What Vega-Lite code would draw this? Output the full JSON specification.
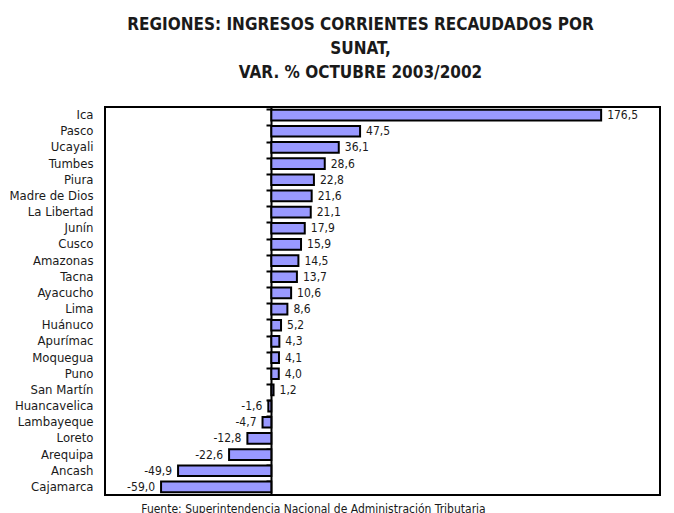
{
  "$schema": "https://vega.github.io/schema/vega-lite/v6.json",
  "autosize": "none",
  "width": 555,
  "height": 388,
  "padding": {"left": 105, "top": 107, "right": 14, "bottom": 18},
  "background": "white",
  "title": {
    "text": ["REGIONES: INGRESOS CORRIENTES RECAUDADOS POR", "SUNAT,", "VAR. % OCTUBRE 2003/2002"],
    "font": "DejaVu Sans Condensed, sans-serif",
    "fontSize": 17,
    "fontWeight": "bold",
    "color": "#1a1a1a",
    "lineHeight": 24,
    "anchor": "middle",
    "dx": -22,
    "offset": 25
  },
  "data": {
    "values": [
      {"region": "Ica", "var": 176.5},
      {"region": "Pasco", "var": 47.5},
      {"region": "Ucayali", "var": 36.1},
      {"region": "Tumbes", "var": 28.6},
      {"region": "Piura", "var": 22.8},
      {"region": "Madre de Dios", "var": 21.6},
      {"region": "La Libertad", "var": 21.1},
      {"region": "Junín", "var": 17.9},
      {"region": "Cusco", "var": 15.9},
      {"region": "Amazonas", "var": 14.5},
      {"region": "Tacna", "var": 13.7},
      {"region": "Ayacucho", "var": 10.6},
      {"region": "Lima", "var": 8.6},
      {"region": "Huánuco", "var": 5.2},
      {"region": "Apurímac", "var": 4.3},
      {"region": "Moquegua", "var": 4.1},
      {"region": "Puno", "var": 4.0},
      {"region": "San Martín", "var": 1.2},
      {"region": "Huancavelica", "var": -1.6},
      {"region": "Lambayeque", "var": -4.7},
      {"region": "Loreto", "var": -12.8},
      {"region": "Arequipa", "var": -22.6},
      {"region": "Ancash", "var": -49.9},
      {"region": "Cajamarca", "var": -59.0}
    ]
  },
  "layer": [
    {
      "mark": {"type": "bar", "fill": "#9999ff", "stroke": "black", "strokeWidth": 2},
      "encoding": {
        "y": {
          "field": "region", "type": "nominal", "sort": null,
          "scale": {"paddingInner": 0.34, "paddingOuter": 0.17},
          "axis": {
            "title": null, "domain": false, "ticks": false,
            "labelPadding": 12, "labelFontSize": 13,
            "labelFont": "DejaVu Sans Condensed, sans-serif",
            "labelColor": "#1a1a1a"
          }
        },
        "x": {
          "field": "var", "type": "quantitative",
          "scale": {"domain": [-89, 208], "nice": false, "zero": false},
          "axis": {
            "title": "Fuente: Superintendencia Nacional de Administración Tributaria",
            "labels": false, "ticks": false, "domain": false, "grid": false,
            "titleFont": "DejaVu Sans Condensed, sans-serif",
            "titleFontSize": 12, "titleFontWeight": "normal", "titleColor": "#1a1a1a",
            "titlePadding": 8, "titleX": 208, "titleAnchor": "middle"
          }
        }
      }
    },
    {
      "mark": {"type": "tick", "opacity": 0},
      "encoding": {
        "y": {
          "field": "region", "type": "nominal", "sort": null,
          "axis": {
            "orient": "left", "offset": -166, "title": null, "labels": false,
            "domain": true, "domainColor": "black", "domainWidth": 2,
            "ticks": true, "tickColor": "black", "tickWidth": 2, "tickSize": 5,
            "bandPosition": 0, "grid": false
          }
        },
        "x": {"datum": 0, "type": "quantitative"}
      }
    },
    {
      "transform": [{"filter": "datum.var >= 0"}],
      "mark": {"type": "text", "align": "left", "dx": 6, "fontSize": 12,
               "font": "DejaVu Sans Condensed, sans-serif", "color": "#1a1a1a"},
      "encoding": {
        "y": {"field": "region", "type": "nominal", "sort": null, "axis": null},
        "x": {"field": "var", "type": "quantitative"},
        "text": {"field": "var", "type": "quantitative", "format": ".1f"}
      }
    },
    {
      "transform": [{"filter": "datum.var < 0"}],
      "mark": {"type": "text", "align": "right", "dx": -6, "fontSize": 12,
               "font": "DejaVu Sans Condensed, sans-serif", "color": "#1a1a1a"},
      "encoding": {
        "y": {"field": "region", "type": "nominal", "sort": null, "axis": null},
        "x": {"field": "var", "type": "quantitative"},
        "text": {"field": "var", "type": "quantitative", "format": ".1f"}
      }
    }
  ],
  "resolve": {"axis": {"y": "independent", "x": "shared"}},
  "config": {
    "locale": {"number": {"decimal": ",", "thousands": ".", "grouping": [3], "currency": ["", ""], "minus": "-"}},
    "view": {"stroke": "black", "strokeWidth": 2}
  }
}
